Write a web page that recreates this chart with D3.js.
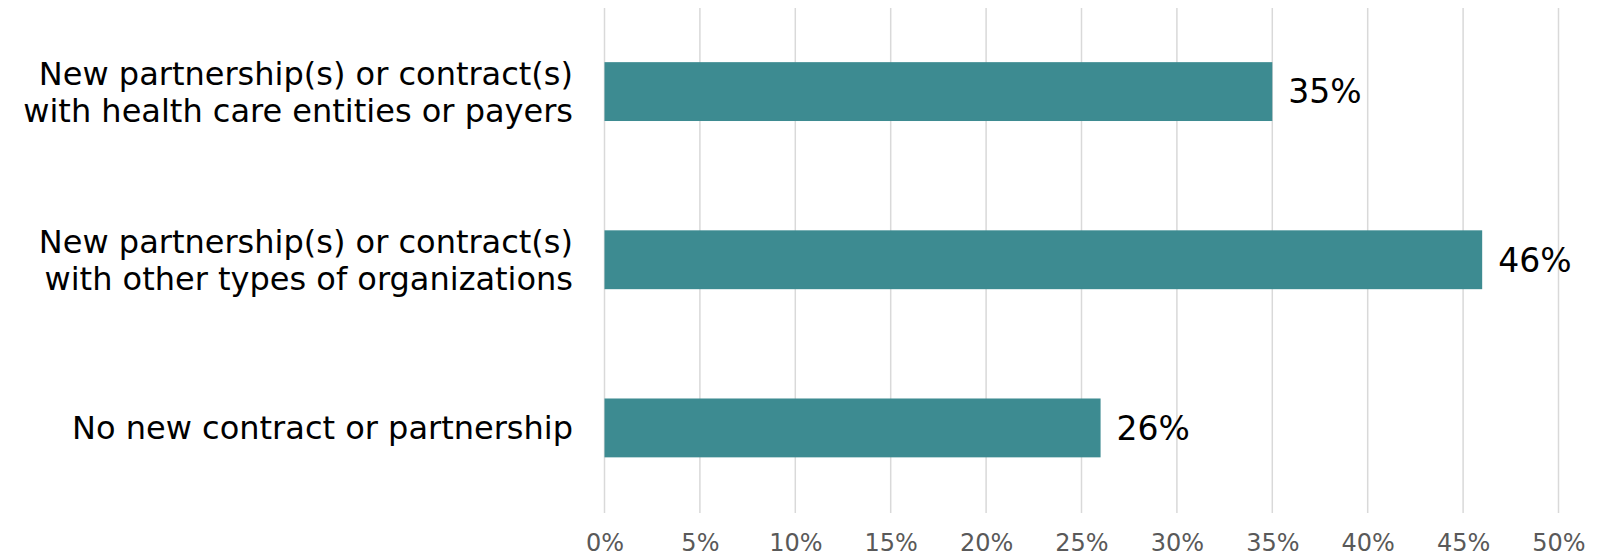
<!DOCTYPE html>
<html>
<head>
<meta charset="utf-8">
<script src="https://cdn.jsdelivr.net/npm/d3@7"></script>
<style>
  body { margin: 0; background: #fff; }
  svg { display: block; font-family: "DejaVu Sans", Verdana, sans-serif; }
</style>
</head>
<body>
<svg id="chart" width="1598" height="557"></svg>
<script>
var width = 1598;
var height = 557;

// data
var categories = [
  ['New partnership(s) or contract(s)', 'with health care entities or payers'],
  ['New partnership(s) or contract(s)', 'with other types of organizations'],
  ['No new contract or partnership']
];
var values = [35, 46, 26];
var ticks = [0, 5, 10, 15, 20, 25, 30, 35, 40, 45, 50];

var barColor = '#3d8b91';
var gridColor = '#d9d9d9';

var svg = d3.select('#chart');

var x = d3.scaleLinear()
  .domain([0, 50])
  .range([604.5, 1558.5]);

var y = d3.scaleBand()
  .domain(d3.range(values.length))
  .range([7.5, 512])
  .paddingInner(0.65)
  .paddingOuter(0.325);

/// gridlines
svg.append('g')
  .selectAll('line')
  .data(ticks)
  .join('line')
  .attr('x1', d => x(d))
  .attr('x2', d => x(d))
  .attr('y1', 8)
  .attr('y2', 513)
  .attr('stroke', gridColor)
  .attr('stroke-width', 1.5);

/// bars
svg.append('g')
  .selectAll('rect')
  .data(values)
  .join('rect')
  .attr('x', x(0))
  .attr('y', (d, i) => y(i))
  .attr('width', d => x(d) - x(0))
  .attr('height', y.bandwidth())
  .attr('fill', barColor);

/// value labels
svg.append('g')
  .selectAll('text')
  .data(values)
  .join('text')
  .attr('x', d => x(d) + 16)
  .attr('y', (d, i) => y(i) + y.bandwidth() / 2)
  .attr('dy', '0.36em')
  .attr('font-size', '33px')
  .attr('fill', '#000')
  .text(d => d + '%');

/// category labels
var lh = 1.15;
var cat = svg.append('g')
  .selectAll('text')
  .data(categories)
  .join('text')
  .attr('text-anchor', 'end')
  .attr('x', 573)
  .attr('y', (d, i) => y(i) + y.bandwidth() / 2)
  .attr('font-size', '32px')
  .attr('fill', '#000');

cat.selectAll('tspan')
  .data(d => d.map((t, j) => ({ t: t, j: j, n: d.length })))
  .join('tspan')
  .attr('x', 573)
  .attr('dy', d => d.j === 0 ? ((0.36 - (d.n - 1) * lh / 2) + 'em') : lh + 'em')
  .text(d => d.t);

/// x axis tick labels
var axis = d3.axisBottom(x)
  .tickValues(ticks)
  .tickFormat(d => d + '%')
  .tickSize(0)
  .tickPadding(0);

var gx = svg.append('g')
  .attr('transform', 'translate(0,534)')
  .call(axis);
gx.select('.domain').remove();
gx.selectAll('text')
  .attr('font-family', '"DejaVu Sans", Verdana, sans-serif')
  .attr('font-size', '24px')
  .attr('fill', '#595959');
</script>
</body>
</html>
